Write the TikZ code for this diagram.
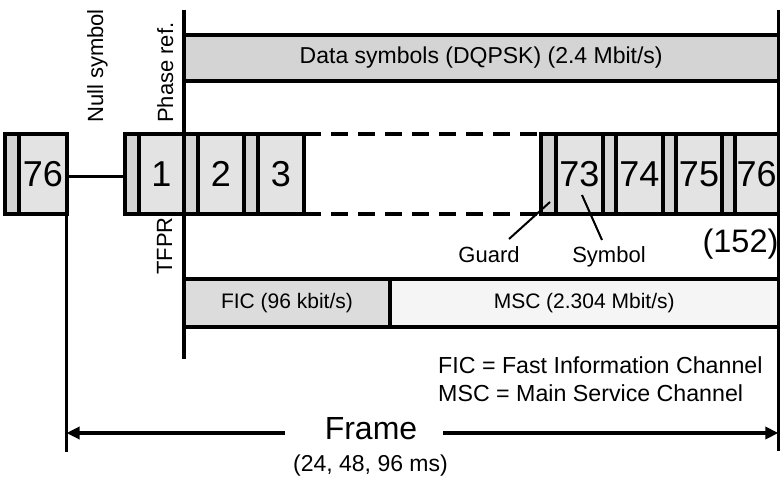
\documentclass[tikz,border=0pt]{standalone}
\usepackage{fontspec}
\setmainfont{Liberation Sans}
\usetikzlibrary{arrows.meta,calc}
\definecolor{guardc}{HTML}{D4D4D4}
\definecolor{symc}{HTML}{E3E3E3}
\definecolor{datac}{HTML}{D4D4D4}
\definecolor{ficc}{HTML}{DCDCDC}
\definecolor{mscc}{HTML}{F5F5F5}
\begin{document}
\begin{tikzpicture}[x=1pt,y=-1pt,
  lw/.style={line width=3.2pt},
  gbox/.style={draw, lw, fill=guardc, minimum height=80pt, inner sep=0pt, outer sep=0pt},
  sbox/.style={draw, lw, fill=symc, minimum height=80pt, inner sep=0pt, outer sep=0pt, font=\fontsize{36}{42}\selectfont},
  bandbox/.style={draw, lw, inner sep=0pt, outer sep=0pt},
  lbl/.style={inner sep=0pt, font=\fontsize{22}{26}\selectfont},
  vlbl/.style={lbl, rotate=90, anchor=base west},
  leader/.style={line width=2pt},
  framearrow/.style={line width=3.2pt, -{Triangle[length=13pt,width=12pt]}},
  dashline/.style={lw, dash pattern=on 17pt off 10pt}
]
\useasboundingbox (0,0) rectangle (780,480);

% vertical reference lines
\coordinate (vtop) at (184,10);
\coordinate (vbot) at (184,359);
\coordinate (rtop) at (778.4,10);
\coordinate (rbot) at (778.4,451);
\draw[lw] (vtop) -- (vbot);
\draw[lw] (rtop) -- (rbot);

% data band
\node[bandbox, fill=datac, minimum width=594.4pt, minimum height=46pt,
      font=\fontsize{23}{27}\selectfont] (data) at (481.2,58) {Data symbols (DQPSK) (2.4 Mbit/s)};

% FIC / MSC band
\node[bandbox, fill=ficc, minimum width=206pt, minimum height=48pt,
      font=\fontsize{21}{25}\selectfont] (fic) at (287,303) {FIC (96 kbit/s)};
\node[bandbox, fill=mscc, minimum width=388.4pt, minimum height=48pt,
      font=\fontsize{21}{25}\selectfont] (msc) at (584.2,303) {MSC (2.304 Mbit/s)};

% symbols
\node[gbox, minimum width=14pt] (g0) at (12,174) {};
\node[sbox, minimum width=48pt] (s0) at (43,174) {76};

\node[gbox, minimum width=14pt] (g1) at (132,174) {};
\node[sbox, minimum width=45pt] (s1) at (161.5,174) {1};
\node[gbox, minimum width=14pt] (g2) at (191,174) {};
\node[sbox, minimum width=46pt] (s2) at (221,174) {2};
\node[gbox, minimum width=14pt] (g3) at (251,174) {};
\node[sbox, minimum width=46pt] (s3) at (281,174) {3};

\node[gbox, minimum width=15pt] (g73) at (548.5,174) {};
\node[sbox, minimum width=47pt] (s73) at (579.5,174) {73};
\node[gbox, minimum width=13pt] (g74) at (609.5,174) {};
\node[sbox, minimum width=47pt] (s74) at (639.5,174) {74};
\node[gbox, minimum width=13pt] (g75) at (669.5,174) {};
\node[sbox, minimum width=46pt] (s75) at (699,174) {75};
\node[gbox, minimum width=13pt] (g76) at (728.5,174) {};
\node[sbox, minimum width=43.4pt] (s76) at (756.7,174) {76};

% null symbol gap and dashed gap
\draw[lw] ($(s0.east)+(0,2.5)$) coordinate (ns) -- (ns -| g1.west);
\draw[dashline] (s3.north east) -- (g73.north west);
\draw[dashline] (s3.south east) -- (g73.south west);

% left frame line
\coordinate (ltop) at (66.5,214);
\coordinate (lbot) at (66.5,452);
\draw[lw] (ltop) -- (lbot);

% rotated labels
\node[vlbl] (nulls) at (103,123) {Null symbol};
\node[vlbl] (phref) at (173,123) {Phase ref.};
\node[vlbl] (tfpr) at (172,275) {TFPR};

% guard / symbol labels
\node[lbl, anchor=base] (guard) at (489,262) {Guard};
\node[lbl, anchor=base] (symb) at (609,262) {Symbol};
\coordinate (gtip) at (550,202);
\coordinate (gtail) at (509,239);
\coordinate (stip) at (582,195);
\coordinate (stail) at (602,240);
\draw[leader] (gtip) -- (gtail);
\draw[leader] (stip) -- (stail);

\node[inner sep=0pt, font=\fontsize{32.5}{38}\selectfont, anchor=base] (n152) at (740.5,252) {(152)};

% legend
\node[lbl, font=\fontsize{23.2}{28}\selectfont, anchor=base west] (leg1) at (438,373) {FIC = Fast Information Channel};
\node[lbl, font=\fontsize{23.2}{28}\selectfont, anchor=base west] (leg2) at (438,401) {MSC = Main Service Channel};

% frame
\node[inner sep=0pt, font=\fontsize{32}{38}\selectfont, anchor=base] (frame) at (371,439) {Frame};
\node[inner sep=0pt, font=\fontsize{23}{27}\selectfont, anchor=base] (ms) at (370.5,471) {(24, 48, 96 ms)};
\coordinate (fl) at (285,433);
\coordinate (fr) at (443,433);
\draw[framearrow] (fl) -- (fl -| ltop);
\draw[framearrow] (fr) -- (fr -| rtop);
\end{tikzpicture}
\end{document}
